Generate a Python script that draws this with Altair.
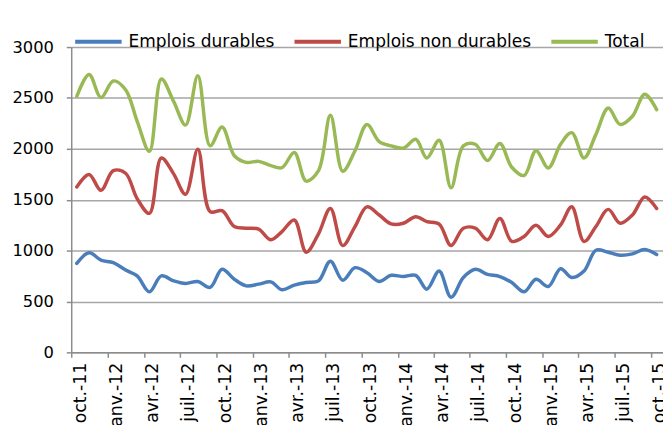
import json
import altair as alt
import pandas as pd

# ---- data (monthly, oct. 2011 -> oct. 2015) ----
series_names = ["Emplois durables", "Emplois non durables", "Total"]
colors = ["#4A7EBB", "#BE4B48", "#98B954"]

durables = [874, 978, 906, 881, 809, 751, 595, 751, 702, 677,
            696, 638, 816, 718, 653, 670, 692, 615, 660, 686,
            702, 896, 709, 832, 783, 696, 757, 745, 757, 621,
            799, 541, 735, 816, 767, 745, 686, 595, 718, 647,
            822, 735, 799, 1003, 984, 955, 968, 1010, 961]

non_durables = [1625, 1748, 1592, 1786, 1760, 1511, 1366, 1910, 1754, 1553,
                1997, 1382, 1392, 1236, 1220, 1210, 1107, 1187, 1301, 984,
                1165, 1414, 1049, 1236, 1430, 1350, 1262, 1269, 1333, 1285,
                1260, 1050, 1220, 1220, 1107, 1315, 1090, 1139, 1248, 1139,
                1252, 1430, 1090, 1236, 1405, 1269, 1350, 1527, 1414]

total = [2515, 2731, 2505, 2667, 2580, 2272, 1975, 2686, 2466, 2233,
         2718, 2029, 2214, 1932, 1867, 1877, 1835, 1815, 1964, 1683,
         1786, 2330, 1780, 1981, 2240, 2071, 2029, 2007, 2094, 1910,
         2084, 1617, 2029, 2045, 1884, 2052, 1819, 1738, 1981, 1812,
         2045, 2159, 1910, 2142, 2401, 2240, 2320, 2537, 2385]

tick_labels = ["oct.-11", "janv.-12", "avr.-12", "juil.-12", "oct.-12",
               "janv.-13", "avr.-13", "juil.-13", "oct.-13", "janv.-14",
               "avr.-14", "juil.-14", "oct.-14", "janv.-15", "avr.-15",
               "juil.-15", "oct.-15"]

y_ticks = [0, 500, 1000, 1500, 2000, 2500, 3000]

# month dates (mid-month points)
dates = []
yy, mm = 2011, 10
for _ in range(len(total)):
    dates.append(f"{yy}-{mm:02d}-15")
    mm += 1
    if mm > 12:
        mm = 1
        yy += 1

rows = []
for name, vals in zip(series_names, [durables, non_durables, total]):
    for d, v in zip(dates, vals):
        rows.append({"date": d, "serie": name, "value": v})
df = pd.DataFrame(rows)

# quarterly ticks
tick_dates = []
yy, mm = 2011, 10
for _ in tick_labels:
    tick_dates.append(alt.DateTime(year=yy, month=mm, date=1, utc=True))
    mm += 3
    if mm > 12:
        mm -= 12
        yy += 1

label_expr = (json.dumps(tick_labels)
              + "[round(((utcyear(datum.value)-2011)*12 + utcmonth(datum.value) - 9)/3)]")

x_domain = [alt.DateTime(year=2011, month=10, date=1, utc=True),
            alt.DateTime(year=2015, month=10, date=31, utc=True)]

FONT = "DejaVu Sans"

chart = alt.Chart(df).mark_line(
    interpolate="catmull-rom", strokeWidth=3.5, strokeCap="round", strokeJoin="round"
).encode(
    x=alt.X("date:T",
            scale=alt.Scale(type="utc", domain=x_domain),
            axis=alt.Axis(values=tick_dates, labelExpr=label_expr, labelAngle=270,
                          labelAlign="right", labelBaseline="top",
                          labelFontSize=17.5, labelPadding=5, tickSize=5,
                          labelLimit=200, labelOverlap=False,
                          grid=False, title=None, labelFont=FONT,
                          labelColor="#000000", domainColor="#8C8C8C",
                          tickColor="#8C8C8C", domainWidth=1.5, tickWidth=1.5)),
    y=alt.Y("value:Q",
            scale=alt.Scale(domain=[0, 3000], nice=False, zero=True),
            axis=alt.Axis(values=y_ticks, format="d", title=None, labelFontSize=16.5,
                          labelPadding=13, tickSize=5, labelFont=FONT,
                          labelColor="#000000", domainColor="#8C8C8C",
                          tickColor="#8C8C8C", domainWidth=1.5, tickWidth=1.5,
                          gridColor="#A6A6A6", gridWidth=1.5)),
    color=alt.Color("serie:N",
                    scale=alt.Scale(domain=series_names, range=colors),
                    legend=alt.Legend(orient="none", legendX=2, legendY=-31,
                                      direction="horizontal", columns=3,
                                      title=None, symbolType="stroke",
                                      symbolSize=2209, symbolStrokeWidth=4,
                                      labelFontSize=17.2, labelFont=FONT,
                                      labelColor="#000000", labelOffset=5,
                                      labelLimit=400, columnPadding=12)),
).properties(
    width=599, height=309,
    autosize=alt.AutoSizeParams(type="none"),
    padding={"left": 64, "top": 37, "right": 0, "bottom": 71},
    background="white",
).configure_view(stroke=None)

chart.save("out.html", embed_options={"renderer": "svg", "actions": False})
